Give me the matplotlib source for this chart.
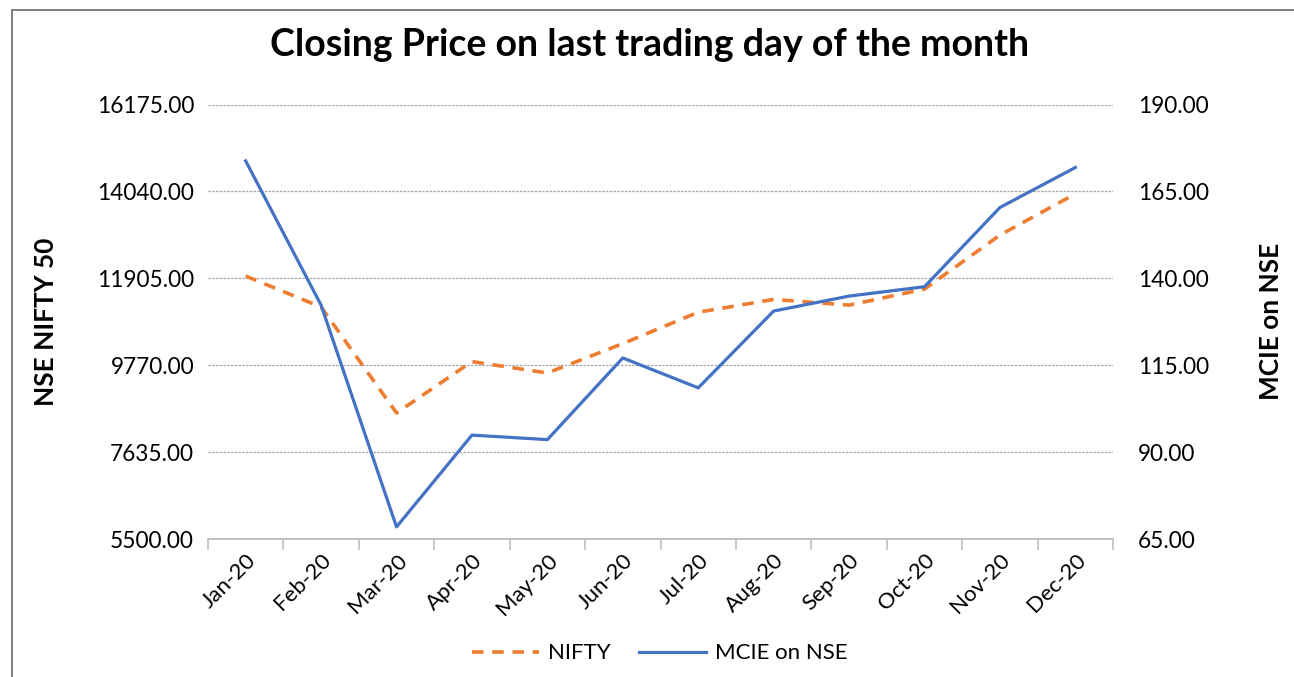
import matplotlib.pyplot as plt
import numpy as np
from matplotlib.patches import Rectangle

plt.rcParams['font.family'] = ['Lato', 'DejaVu Sans']

months = ['Jan-20', 'Feb-20', 'Mar-20', 'Apr-20', 'May-20', 'Jun-20',
          'Jul-20', 'Aug-20', 'Sep-20', 'Oct-20', 'Nov-20', 'Dec-20']
nifty = [11962, 11201, 8598, 9860, 9580, 10302, 11073, 11388, 11248, 11642, 12969, 13982]
mcie = [173.8, 132.3, 68.5, 94.9, 93.6, 117.1, 108.5, 130.6, 134.9, 137.6, 160.4, 171.9]

left_ticks = [5500, 7635, 9770, 11905, 14040, 16175]
right_ticks = [65, 90, 115, 140, 165, 190]

fig = plt.figure(figsize=(12.94, 6.77), dpi=100)
# frame of the pasted chart: only top and left edges show
fig.patches.append(Rectangle((0.0093, -0.05), 1.2, 1.035, transform=fig.transFigure,
                             fill=False, edgecolor='#7f7f7f', lw=1.4))
ax = fig.add_axes([0.1607, 0.2038, 0.6995, 0.6417])
ax2 = ax.twinx()

x = np.arange(len(months))
ax.plot(x, nifty, color='#ed7d31', lw=2.6, ls=(0, (3.2, 2.4)), label='NIFTY')
ax2.plot(x, mcie, color='#4472c4', lw=2.3, label='MCIE on NSE')

ax.set_xlim(-0.5, 11.5)
ax.set_ylim(5500, 16175)
ax2.set_ylim(65, 190)
ax.set_yticks(left_ticks)
ax.set_yticklabels([f'{v:.2f}' for v in left_ticks])
ax2.set_yticks(right_ticks)
ax2.set_yticklabels([f'{v:.2f}' for v in right_ticks])

ax.set_xticks(x)
ax.set_xticklabels(months, rotation=45, ha='right', rotation_mode='anchor', fontsize=16)
ax.tick_params(axis='x', which='major', length=0, pad=8)
ax.set_xticks(np.arange(-0.5, 12, 1), minor=True)
ax.tick_params(axis='x', which='minor', length=8, color='#bfbfbf', width=1.2)
ax.tick_params(axis='y', length=0, labelsize=16.3, pad=10)
ax2.tick_params(axis='y', length=0, labelsize=16.3, pad=18)

ax.grid(axis='y', color='#a6a6a6', ls=(0, (2, 1)), lw=0.9)
for a in (ax, ax2):
    for s in ('top', 'left', 'right'):
        a.spines[s].set_visible(False)
    a.spines['bottom'].set_color('#bfbfbf')
    a.spines['bottom'].set_linewidth(1.2)

ax.set_ylabel('NSE NIFTY 50', fontsize=18.8, fontweight='bold', labelpad=28)
ax2.set_ylabel('MCIE on NSE', fontsize=18.8, fontweight='bold', labelpad=36)
fig.suptitle('Closing Price on last trading day of the month', fontsize=27,
             fontweight='bold', x=0.502, y=0.958)

h1, l1 = ax.get_legend_handles_labels()
h2, l2 = ax2.get_legend_handles_labels()
fig.legend(h1 + h2, l1 + l2, loc='center', bbox_to_anchor=(0.51, 0.035), ncol=2,
           frameon=False, fontsize=16, handlelength=3.0, handletextpad=0.4,
           columnspacing=1.3)

fig.savefig('out.png', dpi=100)
